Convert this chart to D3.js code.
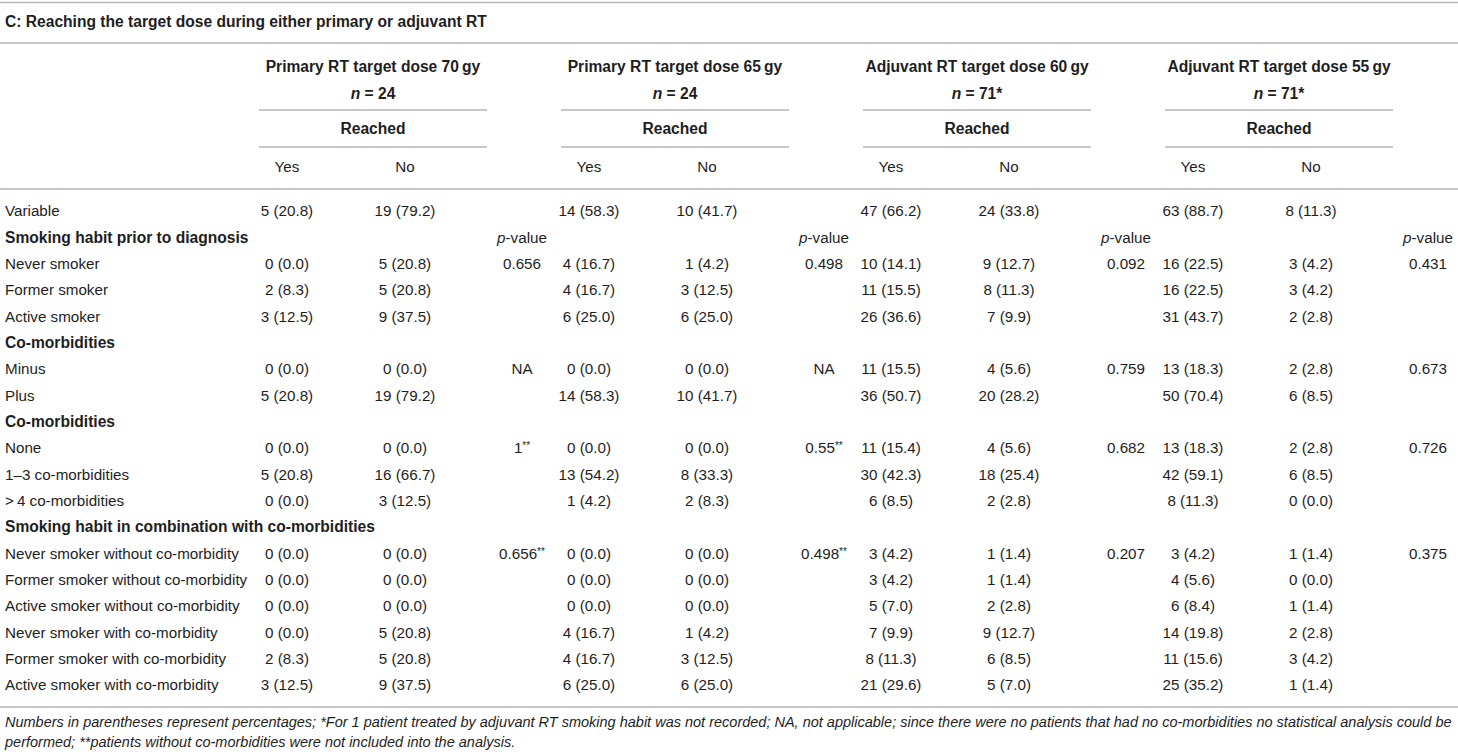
<!DOCTYPE html>
<html>
<head>
<meta charset="utf-8">
<script src="https://cdn.jsdelivr.net/npm/d3@7"></script>
<style>
  body { margin: 0; background: #fff; }
  text { font-family: "Liberation Sans", Arial, Helvetica, sans-serif; fill: #1e1e1e; }
</style>
</head>
<body>
<div id="table_plot"></div>
<script>
// ---- data ----
var title = "C: Reaching the target dose during either primary or adjuvant RT";
var groups = ["Primary RT target dose 70\u2009gy", "Primary RT target dose 65\u2009gy",
              "Adjuvant RT target dose 60\u2009gy", "Adjuvant RT target dose 55\u2009gy"];
var groupN = ["24", "24", "71*", "71*"];
var subHeads = ["Yes", "No"];

var rowLabels = ["Variable", "Smoking habit prior to diagnosis", "Never smoker", "Former smoker",
  "Active smoker", "Co-morbidities", "Minus", "Plus", "Co-morbidities", "None",
  "1\u20133 co-morbidities", ">\u20094 co-morbidities", "Smoking habit in combination with co-morbidities",
  "Never smoker without co-morbidity", "Former smoker without co-morbidity",
  "Active smoker without co-morbidity", "Never smoker with co-morbidity",
  "Former smoker with co-morbidity", "Active smoker with co-morbidity"];
var sectionRows = [1, 5, 8, 12];

// each row: [yes, no, p]
var primary70 = [
  ["5 (20.8)", "19 (79.2)", ""], ["", "", "p-value"],
  ["0 (0.0)", "5 (20.8)", "0.656"], ["2 (8.3)", "5 (20.8)", ""], ["3 (12.5)", "9 (37.5)", ""],
  ["", "", ""],
  ["0 (0.0)", "0 (0.0)", "NA"], ["5 (20.8)", "19 (79.2)", ""],
  ["", "", ""],
  ["0 (0.0)", "0 (0.0)", "1**"], ["5 (20.8)", "16 (66.7)", ""], ["0 (0.0)", "3 (12.5)", ""],
  ["", "", ""],
  ["0 (0.0)", "0 (0.0)", "0.656**"], ["0 (0.0)", "0 (0.0)", ""], ["0 (0.0)", "0 (0.0)", ""],
  ["0 (0.0)", "5 (20.8)", ""], ["2 (8.3)", "5 (20.8)", ""], ["3 (12.5)", "9 (37.5)", ""]
];
var primary65 = [
  ["14 (58.3)", "10 (41.7)", ""], ["", "", "p-value"],
  ["4 (16.7)", "1 (4.2)", "0.498"], ["4 (16.7)", "3 (12.5)", ""], ["6 (25.0)", "6 (25.0)", ""],
  ["", "", ""],
  ["0 (0.0)", "0 (0.0)", "NA"], ["14 (58.3)", "10 (41.7)", ""],
  ["", "", ""],
  ["0 (0.0)", "0 (0.0)", "0.55**"], ["13 (54.2)", "8 (33.3)", ""], ["1 (4.2)", "2 (8.3)", ""],
  ["", "", ""],
  ["0 (0.0)", "0 (0.0)", "0.498**"], ["0 (0.0)", "0 (0.0)", ""], ["0 (0.0)", "0 (0.0)", ""],
  ["4 (16.7)", "1 (4.2)", ""], ["4 (16.7)", "3 (12.5)", ""], ["6 (25.0)", "6 (25.0)", ""]
];
var adjuvant60 = [
  ["47 (66.2)", "24 (33.8)", ""], ["", "", "p-value"],
  ["10 (14.1)", "9 (12.7)", "0.092"], ["11 (15.5)", "8 (11.3)", ""], ["26 (36.6)", "7 (9.9)", ""],
  ["", "", ""],
  ["11 (15.5)", "4 (5.6)", "0.759"], ["36 (50.7)", "20 (28.2)", ""],
  ["", "", ""],
  ["11 (15.4)", "4 (5.6)", "0.682"], ["30 (42.3)", "18 (25.4)", ""], ["6 (8.5)", "2 (2.8)", ""],
  ["", "", ""],
  ["3 (4.2)", "1 (1.4)", "0.207"], ["3 (4.2)", "1 (1.4)", ""], ["5 (7.0)", "2 (2.8)", ""],
  ["7 (9.9)", "9 (12.7)", ""], ["8 (11.3)", "6 (8.5)", ""], ["21 (29.6)", "5 (7.0)", ""]
];
var adjuvant55 = [
  ["63 (88.7)", "8 (11.3)", ""], ["", "", "p-value"],
  ["16 (22.5)", "3 (4.2)", "0.431"], ["16 (22.5)", "3 (4.2)", ""], ["31 (43.7)", "2 (2.8)", ""],
  ["", "", ""],
  ["13 (18.3)", "2 (2.8)", "0.673"], ["50 (70.4)", "6 (8.5)", ""],
  ["", "", ""],
  ["13 (18.3)", "2 (2.8)", "0.726"], ["42 (59.1)", "6 (8.5)", ""], ["8 (11.3)", "0 (0.0)", ""],
  ["", "", ""],
  ["3 (4.2)", "1 (1.4)", "0.375"], ["4 (5.6)", "0 (0.0)", ""], ["6 (8.4)", "1 (1.4)", ""],
  ["14 (19.8)", "2 (2.8)", ""], ["11 (15.6)", "3 (4.2)", ""], ["25 (35.2)", "1 (1.4)", ""]
];
var groupValues = [primary70, primary65, adjuvant60, adjuvant55];

var footnote = [
  "Numbers in parentheses represent percentages; *For 1 patient treated by adjuvant RT smoking habit was not recorded; NA, not applicable; since there were no patients that had no co-morbidities no statistical analysis could be",
  "performed; **patients without co-morbidities were not included into the analysis."
];

// ---- layout ----
var width = 1458, height = 754;
var fontSize = 15.2, boldSize = 15.6;
var lineColor = "#b4b4b4";

var svg = d3.select("#table_plot")
  .append("svg")
    .attr("width", width)
    .attr("height", height);

// group bands and columns inside each group
var xGroup = d3.scaleBand()
  .domain(d3.range(groups.length))
  .range([254, 254 + 4 * 302]);
var xSub = d3.scaleOrdinal()
  .domain([0, 1, 2])
  .range([33, 151, 268]);
var y = d3.scalePoint()
  .domain(d3.range(rowLabels.length))
  .range([211, 685]);

// writes a cell string, with italic p and superscript stars
function cellText(sel, s) {
  if (s === "p-value") {
    sel.append("tspan").style("font-style", "italic").text("p");
    sel.append("tspan").text("-value");
  } else if (/\*\*$/.test(s)) {
    sel.append("tspan").text(s.replace("**", ""));
    sel.append("tspan").attr("dy", "-0.4em").style("font-size", "10px").text("**");
  } else {
    sel.text(s);
  }
}

function hline(x1, x2, yy) {
  svg.append("line")
    .attr("x1", x1).attr("x2", x2)
    .attr("y1", yy).attr("y2", yy)
    .attr("stroke", lineColor)
    .attr("stroke-width", 1.5);
}

// rules
hline(0, width, 2.5);
hline(0, width, 43);
hline(0, width, 189);
hline(0, width, 707);

// title
svg.append("text")
  .attr("x", 5).attr("y", 22).attr("dy", "0.35em")
  .style("font-size", boldSize + "px")
  .style("font-weight", "bold")
  .text(title);

// group headers
var head = svg.append("g")
  .selectAll("g")
  .data(groups)
  .enter()
  .append("g")
    .attr("transform", function(d, i) { return "translate(" + xGroup(i) + ",0)"; });

head.append("text")
  .attr("x", 119).attr("y", 67).attr("dy", "0.35em")
  .style("text-anchor", "middle")
  .style("font-size", boldSize + "px")
  .style("font-weight", "bold")
  .text(function(d) { return d; });

head.append("text")
  .attr("x", 119).attr("y", 94).attr("dy", "0.35em")
  .style("text-anchor", "middle")
  .style("font-size", boldSize + "px")
  .style("font-weight", "bold")
  .each(function(d, i) {
    var t = d3.select(this);
    t.append("tspan").style("font-style", "italic").text("n");
    t.append("tspan").text(" = " + groupN[i]);
  });

head.append("line")
  .attr("x1", 5).attr("x2", 233)
  .attr("y1", 110).attr("y2", 110)
  .attr("stroke", lineColor).attr("stroke-width", 1.5);

head.append("text")
  .attr("x", 119).attr("y", 129).attr("dy", "0.35em")
  .style("text-anchor", "middle")
  .style("font-size", boldSize + "px")
  .style("font-weight", "bold")
  .text("Reached");

head.append("line")
  .attr("x1", 5).attr("x2", 233)
  .attr("y1", 147).attr("y2", 147)
  .attr("stroke", lineColor).attr("stroke-width", 1.5);

head.selectAll(".sub")
  .data(subHeads)
  .enter()
  .append("text")
    .attr("class", "sub")
    .attr("x", function(d, i) { return xSub(i); })
    .attr("y", 167).attr("dy", "0.35em")
    .style("text-anchor", "middle")
    .style("font-size", fontSize + "px")
    .text(function(d) { return d; });

// row labels
svg.append("g")
  .selectAll("text")
  .data(rowLabels)
  .enter()
  .append("text")
    .attr("x", 5)
    .attr("y", function(d, i) { return y(i); })
    .attr("dy", "0.35em")
    .style("font-size", function(d, i) { return (sectionRows.indexOf(i) >= 0 ? boldSize : fontSize) + "px"; })
    .style("font-weight", function(d, i) { return sectionRows.indexOf(i) >= 0 ? "bold" : "normal"; })
    .text(function(d) { return d; });

// cells
groupValues.forEach(function(rows, g) {
  var cells = [];
  rows.forEach(function(r, ri) {
    r.forEach(function(v, ci) {
      if (v !== "") cells.push({ row: ri, col: ci, v: v });
    });
  });
  svg.append("g")
    .attr("transform", "translate(" + xGroup(g) + ",0)")
    .selectAll("text")
    .data(cells)
    .enter()
    .append("text")
      .attr("x", function(d) { return xSub(d.col); })
      .attr("y", function(d) { return y(d.row); })
      .attr("dy", "0.35em")
      .style("text-anchor", "middle")
      .style("font-size", fontSize + "px")
      .each(function(d) { cellText(d3.select(this), d.v); });
});

// footnote
svg.append("g")
  .selectAll("text")
  .data(footnote)
  .enter()
  .append("text")
    .attr("x", 5)
    .attr("y", function(d, i) { return 722 + i * 20; })
    .attr("dy", "0.35em")
    .style("font-size", "14.5px")
    .style("font-style", "italic")
    .text(function(d) { return d; });
</script>
</body>
</html>
